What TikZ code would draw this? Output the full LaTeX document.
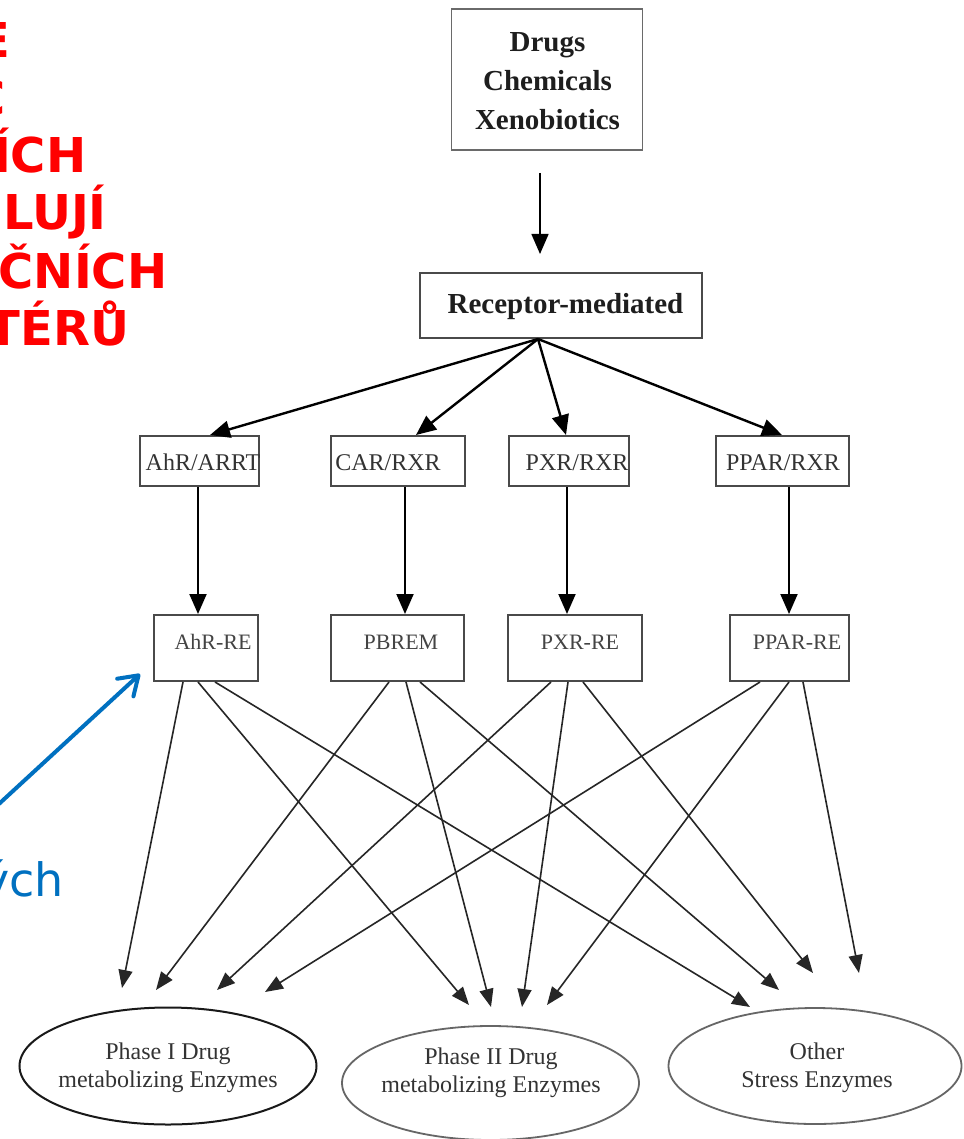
\documentclass[tikz,border=0pt]{standalone}
\usepackage{fontspec}
\setmainfont{Liberation Serif}
\newfontfamily\annofont{DejaVu Sans}
\usetikzlibrary{arrows.meta,shapes.geometric}
\definecolor{boxgray}{HTML}{4A4A4A}
\definecolor{lightbox}{HTML}{6A6A6A}
\definecolor{txtdark}{HTML}{1E1E1E}
\definecolor{txtmid}{HTML}{333333}
\definecolor{txtlight}{HTML}{444444}
\definecolor{redtxt}{HTML}{FF0000}
\definecolor{bluetxt}{HTML}{0070C0}
\begin{document}
\begin{tikzpicture}[x=1pt,y=-1pt,
  box/.style={draw=boxgray,line width=2pt,inner sep=0pt,rectangle},
  ell/.style={draw=#1,line width=1.8pt,inner sep=0pt,ellipse},
  boldtxt/.style={inner sep=0pt,text=txtdark,font=\fontsize{29}{39}\selectfont\bfseries},
  lbltwo/.style={inner sep=0pt,text=txtmid,anchor=base,font=\fontsize{24}{28}\selectfont},
  lblthree/.style={inner sep=0pt,text=txtlight,anchor=base,font=\fontsize{22}{26}\selectfont},
  elltxt/.style={inner sep=0pt,text=txtmid,align=center,font=\fontsize{24}{28}\selectfont},
  redt/.style={inner sep=0pt,anchor=base east,text=redtxt,font=\annofont\bfseries\fontsize{48}{58}\selectfont},
  bluet/.style={inner sep=0pt,anchor=base east,text=bluetxt,font=\annofont\fontsize{46}{56}\selectfont},
  arrA/.style={-{Triangle[length=20pt,width=17pt]},line width=2.4pt,draw=black},
  arrV/.style={-{Triangle[length=20pt,width=17pt]},line width=2pt,draw=black},
  arrD/.style={-{Triangle[length=20pt,width=17pt]},line width=1.5pt,draw=black},
  arrL/.style={-{Triangle[length=18pt,width=14pt]},line width=1.6pt,draw=black!85},
  bluearrow/.style={-{Straight Barb[length=18pt,width=24pt,round]},line width=4pt,line cap=round,draw=bluetxt}
]
\useasboundingbox (0,0) rectangle (963,1139);
\fill[white] (0,0) rectangle (963,1139);
\clip (0,0) rectangle (963,1139);

% ---------- red annotation (cut at left edge) ----------
\node[redt] (r1) at (10.5,58) {E};
\node[redt] (r2) at (6,116) {C};
\node[redt] (r3) at (86.5,173) {ÍCH};
\node[redt] (r4) at (107,230) {LUJÍ};
\node[redt] (r5) at (167.5,288) {ČNÍCH};
\node[redt] (r6) at (129.5,345) {TÉRŮ};

% ---------- blue annotation ----------
\node[bluet] (b1) at (64,896) {ých};
\coordinate (bstart) at (-12,814);
\coordinate (btip) at (140,674);
\draw[bluearrow] (bstart) -- (btip);

% ---------- top boxes ----------
\node[box,draw=lightbox,line width=1.6pt,minimum width=191pt,minimum height=141pt] (drugs) at (547,79.5) {};
\node[boldtxt,align=center] (drugst) at (547.5,81) {Drugs\\Chemicals\\Xenobiotics};

\node[box,minimum width=282pt,minimum height=65pt] (rec) at (561,305.5) {};
\node[boldtxt,anchor=base] (rect) at (565.5,313) {Receptor-mediated};

\draw[arrD,shorten <=22pt,shorten >=18pt] ([xshift=-7pt]drugs.south) -- ([xshift=-21pt]rec.north);

% ---------- row 2 ----------
\node[box,minimum width=119pt,minimum height=50pt] (ahr) at (199.5,461) {};
\node[box,minimum width=134pt,minimum height=50pt] (car) at (398,461) {};
\node[box,minimum width=120pt,minimum height=50pt] (pxr) at (568.5,461) {};
\node[box,minimum width=133pt,minimum height=50pt] (ppar) at (782.5,461) {};
\node[lbltwo] (ahrt) at (203,470) {AhR/ARRT};
\node[lbltwo] (cart) at (388,470) {CAR/RXR};
\node[lbltwo] (pxrt) at (577,470) {PXR/RXR};
\node[lbltwo] (ppart) at (783,470) {PPAR/RXR};

\draw[arrA] ([xshift=-23pt]rec.south) -- ([xshift=10.5pt]ahr.north);
\draw[arrA] ([xshift=-23pt]rec.south) -- ([xshift=18pt]car.north);
\draw[arrA] ([xshift=-23pt]rec.south) -- ([xshift=-2.5pt]pxr.north);
\draw[arrA] ([xshift=-23pt]rec.south) -- ([xshift=-0.5pt]ppar.north);

% ---------- row 3 ----------
\node[box,minimum width=104pt,minimum height=66pt] (ahre) at (206,648) {};
\node[box,minimum width=133pt,minimum height=66pt] (pbrem) at (397.5,648) {};
\node[box,minimum width=134pt,minimum height=66pt] (pxre) at (575,648) {};
\node[box,minimum width=119pt,minimum height=66pt] (ppre) at (789.5,648) {};
\node[lblthree] (ahret) at (213,649) {AhR-RE};
\node[lblthree] (pbremt) at (401,649) {PBREM};
\node[lblthree] (pxret) at (580,649) {PXR-RE};
\node[lblthree] (ppret) at (797,649) {PPAR-RE};

\draw[arrV] ([xshift=-1.5pt]ahr.south) -- ([xshift=-8pt]ahre.north);
\draw[arrV] ([xshift=7pt]car.south) -- ([xshift=7.5pt]pbrem.north);
\draw[arrV] ([xshift=-1.5pt]pxr.south) -- ([xshift=-8pt]pxre.north);
\draw[arrV] ([xshift=6.5pt]ppar.south) -- ([xshift=-0.5pt]ppre.north);

% ---------- bottom ellipses ----------
\node[ell=black!90,line width=2pt,minimum width=297pt,minimum height=117pt] (ph1) at (168,1066) {};
\node[ell=black!60,minimum width=297pt,minimum height=114pt] (ph2) at (490.5,1083) {};
\node[ell=black!60,minimum width=293pt,minimum height=116pt] (oth) at (815,1066) {};
\node[elltxt] (ph1t) at (168,1068) {Phase I Drug\\metabolizing Enzymes};
\node[elltxt] (ph2t) at (491,1073) {Phase II Drug\\metabolizing Enzymes};
\node[elltxt] (otht) at (817,1068) {Other\\Stress Enzymes};

% arrow tip coordinates above the ellipses
\coordinate (t1) at (122,988);
\coordinate (t2) at (156,990);
\coordinate (t3) at (217,990);
\coordinate (t4) at (265,992);
\coordinate (t5) at (469,1005);
\coordinate (t6) at (491,1007);
\coordinate (t7) at (522,1007);
\coordinate (t8) at (547,1005);
\coordinate (t9) at (750,1007);
\coordinate (t10) at (779,990);
\coordinate (t11) at (813,973);
\coordinate (t12) at (859,973);

% ---------- crossing arrows ----------
\draw[arrL] ([xshift=-23pt]ahre.south) -- (t1);
\draw[arrL] ([xshift=-8pt]ahre.south) -- (t5);
\draw[arrL] ([xshift=9pt]ahre.south) -- (t9);

\draw[arrL] ([xshift=-8.5pt]pbrem.south) -- (t2);
\draw[arrL] ([xshift=8.5pt]pbrem.south) -- (t6);
\draw[arrL] ([xshift=22.5pt]pbrem.south) -- (t10);

\draw[arrL] ([xshift=-24pt]pxre.south) -- (t3);
\draw[arrL] ([xshift=-7pt]pxre.south) -- (t7);
\draw[arrL] ([xshift=8pt]pxre.south) -- (t11);

\draw[arrL] ([xshift=-29.5pt]ppre.south) -- (t4);
\draw[arrL] ([xshift=-0.5pt]ppre.south) -- (t8);
\draw[arrL] ([xshift=13.5pt]ppre.south) -- (t12);
\end{tikzpicture}
\end{document}
